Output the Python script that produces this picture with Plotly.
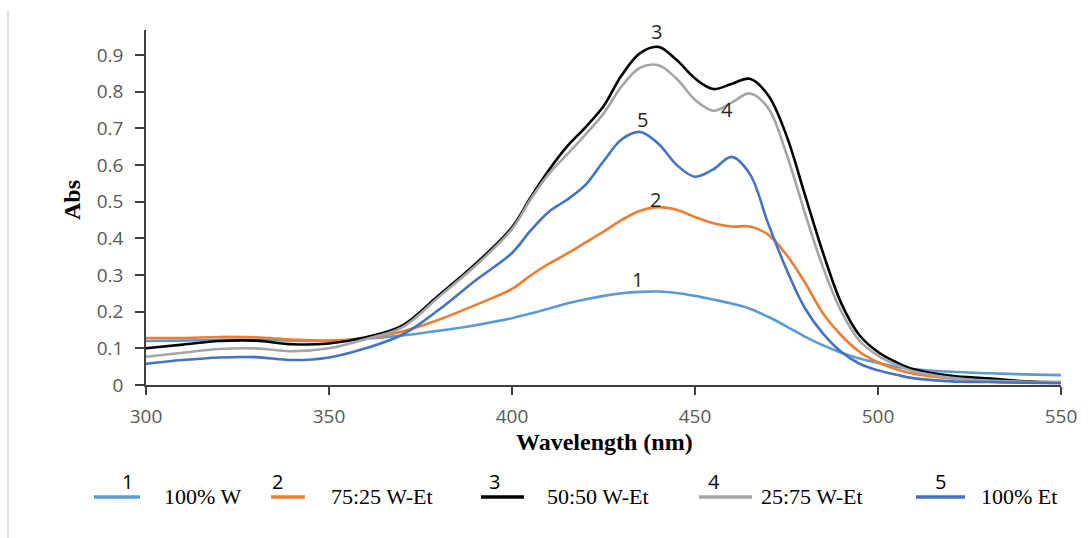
import plotly.graph_objects as go

wavelength = [300, 310, 320, 330, 340, 350, 360, 370, 380, 390, 400, 405, 410, 415, 420,
              425, 430, 435, 440, 445, 450, 455, 460, 465, 470, 475, 480, 485, 490, 495,
              500, 505, 510, 520, 530, 540, 550]

abs_100W = [0.120, 0.121, 0.123, 0.123, 0.121, 0.120, 0.126, 0.135, 0.148, 0.163, 0.182,
            0.195, 0.208, 0.222, 0.233, 0.243, 0.250, 0.254, 0.255, 0.251, 0.243, 0.233,
            0.222, 0.208, 0.186, 0.160, 0.132, 0.108, 0.088, 0.072, 0.060, 0.050, 0.043,
            0.036, 0.032, 0.029, 0.027]
abs_75_25 = [0.128, 0.128, 0.131, 0.130, 0.124, 0.121, 0.128, 0.146, 0.178, 0.218, 0.262,
             0.298, 0.330, 0.358, 0.388, 0.418, 0.450, 0.475, 0.485, 0.478, 0.458, 0.441,
             0.432, 0.432, 0.410, 0.355, 0.280, 0.195, 0.135, 0.090, 0.062, 0.043, 0.030,
             0.018, 0.012, 0.009, 0.008]
abs_50_50 = [0.100, 0.110, 0.120, 0.121, 0.111, 0.113, 0.130, 0.162, 0.245, 0.330, 0.430,
             0.510, 0.585, 0.650, 0.702, 0.760, 0.845, 0.905, 0.922, 0.886, 0.836, 0.807,
             0.821, 0.835, 0.790, 0.680, 0.520, 0.360, 0.222, 0.135, 0.090, 0.062, 0.042,
             0.025, 0.018, 0.010, 0.006]
abs_25_75 = [0.077, 0.088, 0.098, 0.100, 0.092, 0.100, 0.125, 0.157, 0.240, 0.325, 0.425,
             0.505, 0.575, 0.628, 0.682, 0.740, 0.815, 0.865, 0.872, 0.835, 0.778, 0.748,
             0.770, 0.795, 0.755, 0.630, 0.470, 0.320, 0.200, 0.120, 0.080, 0.055, 0.037,
             0.020, 0.012, 0.009, 0.008]
abs_100Et = [0.058, 0.068, 0.075, 0.076, 0.068, 0.075, 0.100, 0.137, 0.205, 0.285, 0.360,
             0.420, 0.472, 0.505, 0.545, 0.610, 0.670, 0.690, 0.658, 0.600, 0.568, 0.588,
             0.622, 0.575, 0.440, 0.315, 0.210, 0.140, 0.090, 0.058, 0.040, 0.028, 0.018,
             0.010, 0.008, 0.006, 0.005]

series = [abs_100W, abs_75_25, abs_50_50, abs_25_75, abs_100Et]
numbers = ["1", "2", "3", "4", "5"]
names = ["100% W", "75:25 W-Et", "50:50 W-Et", "25:75 W-Et", "100% Et"]
colors = ["#5B9BD5", "#ED7D31", "#000000", "#A5A5A5", "#4472C4"]

# curve label positions (wavelength, abs)
label_x = [434.2, 439.3, 439.6, 458.7, 435.7]
label_y = [0.289, 0.507, 0.963, 0.750, 0.723]

x_ticks = [300, 350, 400, 450, 500, 550]
y_ticks = [0, 0.1, 0.2, 0.3, 0.4, 0.5, 0.6, 0.7, 0.8, 0.9]
y_ticktext = ["0", "0.1", "0.2", "0.3", "0.4", "0.5", "0.6", "0.7", "0.8", "0.9"]

W, H = 1092, 538
L, R, T, B = 146, 31, 30, 153
PW, PH = W - L - R, H - T - B


def px(xp):
    return (xp - L) / PW


def py(yp):
    return (H - B - yp) / PH


fig = go.Figure()
for vals, nm, col in zip(series, names, colors):
    fig.add_trace(go.Scatter(x=wavelength, y=vals, mode="lines", name=nm,
                             line=dict(color=col, width=2.6, shape="spline", smoothing=1.0),
                             showlegend=False))

annotations = []
for n, lx, ly in zip(numbers, label_x, label_y):
    annotations.append(dict(x=lx, y=ly, xref="x", yref="y", text=n, showarrow=False,
                            xanchor="center", yanchor="middle",
                            font=dict(family="Open Sans", size=20, color="#262626")))

# axis titles
annotations.append(dict(x=px(72), y=py(200), xref="paper", yref="paper", text="<b>Abs</b>",
                        textangle=-90, showarrow=False, xanchor="center", yanchor="middle",
                        font=dict(family="Liberation Serif", size=24, color="#000000")))
annotations.append(dict(x=px(604), y=py(442), xref="paper", yref="paper",
                        text="<b>Wavelength (nm)</b>", showarrow=False,
                        xanchor="center", yanchor="middle",
                        font=dict(family="Liberation Serif", size=24, color="#000000")))

# custom legend
leg_lines = [(94, 140), (271, 305), (481, 524), (699, 752), (916, 965)]
leg_nums = [127, 277, 494, 714, 940]
leg_text = [162, 329, 545, 759, 979]
shapes = []
for (a, b), nx, tx, n, nm, col in zip(leg_lines, leg_nums, leg_text, numbers, names, colors):
    shapes.append(dict(type="line", xref="paper", yref="paper", x0=px(a), x1=px(b),
                       y0=py(497), y1=py(497), line=dict(color=col, width=3.5)))
    annotations.append(dict(x=px(nx), y=py(481), xref="paper", yref="paper", text=n,
                            showarrow=False, xanchor="center", yanchor="middle",
                            font=dict(family="Open Sans", size=20, color="#000000")))
    annotations.append(dict(x=px(tx), y=py(496), xref="paper", yref="paper", text=nm,
                            showarrow=False, xanchor="left", yanchor="middle",
                            font=dict(family="Liberation Serif", size=22, color="#000000")))

# faint outer border on the left
shapes.append(dict(type="line", xref="paper", yref="paper", x0=px(8), x1=px(8),
                   y0=py(10), y1=py(538), line=dict(color="#D9D9D9", width=1.5)))

fig.update_layout(
    width=W, height=H,
    margin=dict(l=L, r=R, t=T, b=B, pad=0),
    paper_bgcolor="white", plot_bgcolor="white",
    annotations=annotations, shapes=shapes,
    showlegend=False,
    xaxis=dict(range=[300, 550], tickvals=x_ticks, ticks="outside", ticklen=8,
               tickwidth=1.5, tickcolor="#404040", showline=True, linecolor="#404040",
               linewidth=1.5, showgrid=False, zeroline=False, ticklabelstandoff=5,
               tickfont=dict(family="Open Sans", size=19, color="#595959")),
    yaxis=dict(range=[0, 0.968], tickvals=y_ticks, ticktext=y_ticktext, ticks="outside",
               ticklen=9, tickwidth=1.5, tickcolor="#404040", showline=True,
               linecolor="#404040", linewidth=1.5, showgrid=False, zeroline=False,
               ticklabelstandoff=8,
               tickfont=dict(family="Open Sans", size=19, color="#595959")),
)

fig.write_html("out.html")
